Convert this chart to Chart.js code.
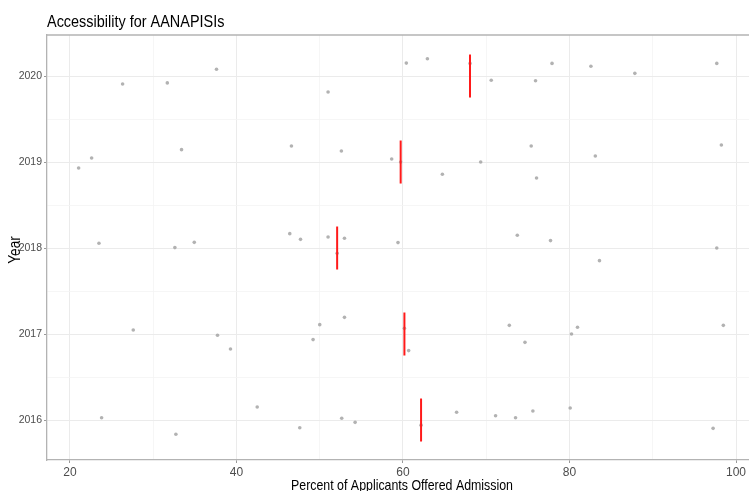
<!DOCTYPE html>
<html>
<head>
<meta charset="utf-8">
<title>Accessibility for AANAPISIs</title>
<script src="https://cdn.jsdelivr.net/npm/chart.js@4.4.1/dist/chart.umd.min.js"></script>
<style>
  html, body { margin: 0; padding: 0; background: #fff; }
  #wrap { width: 749px; height: 491px; }
</style>
</head>
<body>
<div id="wrap"><canvas id="chart" width="749" height="491"></canvas></div>
<script>
// Years on the y axis and the red median mark for each
const years = [2016, 2017, 2018, 2019, 2020];
const medians = [62.17, 60.17, 52.09, 59.72, 68.05];

// Percent offered admission per school, with the jittered year it was drawn at
const pct2016 = [23.8, 32.72, 42.49, 47.6, 52.64, 54.25, 62.17, 66.44, 71.12, 73.52, 75.6, 80.08, 97.25];
const yr2016 = [2016.027, 2015.834, 2016.151, 2015.91, 2016.02, 2015.973, 2015.94, 2016.09, 2016.05, 2016.027, 2016.105, 2016.14, 2015.903];
const pct2017 = [27.6, 37.72, 39.28, 49.2, 50.0, 52.97, 60.17, 60.68, 72.77, 74.65, 80.24, 80.96, 98.48];
const yr2017 = [2017.047, 2016.985, 2016.826, 2016.935, 2017.109, 2017.194, 2017.066, 2016.807, 2017.101, 2016.903, 2017.0, 2017.078, 2017.101];
const pct2018 = [23.48, 32.6, 34.93, 46.4, 47.69, 51.0, 52.09, 52.97, 59.4, 73.73, 77.72, 83.6, 97.69];
const yr2018 = [2018.055, 2018.005, 2018.066, 2018.167, 2018.101, 2018.128, 2017.94, 2018.113, 2018.063, 2018.148, 2018.086, 2017.853, 2018.0];
const pct2019 = [21.04, 22.6, 33.4, 46.6, 52.6, 58.64, 59.72, 64.73, 69.33, 75.4, 76.04, 83.1, 98.24];
const yr2019 = [2018.93, 2019.047, 2019.144, 2019.186, 2019.128, 2019.035, 2019.0, 2018.857, 2019.0, 2019.186, 2018.814, 2019.07, 2019.198];
const pct2020 = [26.32, 31.69, 37.6, 51.0, 60.4, 62.93, 68.05, 70.6, 75.92, 77.9, 82.57, 87.85, 97.69];
const yr2020 = [2019.907, 2019.92, 2020.078, 2019.814, 2020.15, 2020.2, 2020.147, 2019.95, 2019.945, 2020.147, 2020.113, 2020.031, 2020.147];

// Tick positions (major ones get labels, minor ones only a faint grid line)
const xMajor = [20, 40, 60, 80, 100];
const xMinor = [30, 50, 70, 90];
const yMajor = [2016, 2017, 2018, 2019, 2020];
const yMinor = [2016.5, 2017.5, 2018.5, 2019.5];

const titleText = 'Accessibility for AANAPISIs';
const xTitleText = 'Percent of Applicants Offered Admission';
const yTitleText = 'Year';

const SANS = '"Liberation Sans", Arial, sans-serif';
const AXIS_GRAY = '#b3b3b3';

function zip(xs, ys) {
    return xs.map((x, i) => ({ x: x, y: ys[i] }));
}

const allPoints = []
    .concat(zip(pct2016, yr2016))
    .concat(zip(pct2017, yr2017))
    .concat(zip(pct2018, yr2018))
    .concat(zip(pct2019, yr2019))
    .concat(zip(pct2020, yr2020));

// one short vertical red segment per year at the median
const medianSets = years.map((yr, i) => ({
    type: 'line',
    data: [{ x: medians[i], y: yr - 0.25 }, { x: medians[i], y: yr + 0.25 }],
    borderColor: '#ff1a1a',
    borderWidth: 2,
    pointRadius: 0,
    fill: false
}));

function explicitTicks(major, minor) {
    return function(scale) {
        const vals = major.concat(minor).sort((a, b) => a - b);
        scale.ticks = vals.map(v => ({ value: v, major: major.includes(v) }));
    };
}

function isMajor(list) {
    return function(ctx) {
        return ctx.tick && list.includes(ctx.tick.value);
    };
}

// narrow-looking text: squeeze horizontally a bit
function squeezedText(ctx, text, x, y, size, squeeze, angle) {
    ctx.save();
    ctx.translate(x, y);
    if (angle) ctx.rotate(angle);
    ctx.scale(squeeze, 1);
    ctx.font = size + 'px ' + SANS;
    ctx.fillStyle = '#000';
    ctx.textAlign = 'center';
    ctx.textBaseline = 'alphabetic';
    ctx.fillText(text, 0, 0);
    ctx.restore();
}

// top frame line, main title, axis titles
const framePlugin = {
    id: 'frame',
    afterDraw(chart) {
        const ctx = chart.ctx;
        const a = chart.chartArea;
        ctx.save();
        ctx.strokeStyle = AXIS_GRAY;
        ctx.lineWidth = 1.3;
        ctx.beginPath();
        ctx.moveTo(a.left, a.top);
        ctx.lineTo(a.right, a.top);
        ctx.stroke();
        ctx.restore();

        ctx.save();
        ctx.font = '17px ' + SANS;
        const w = ctx.measureText(titleText).width * 0.85;
        ctx.restore();
        squeezedText(ctx, titleText, a.left + w / 2, 26.5, 17, 0.85, 0);
        squeezedText(ctx, xTitleText, 402, 489.5, 15, 0.825, 0);
        squeezedText(ctx, yTitleText, 20, 250, 16, 0.85, -Math.PI / 2);
    }
};

const xMajorTest = isMajor(xMajor);
const yMajorTest = isMajor(yMajor);

new Chart(document.getElementById('chart'), {
    type: 'scatter',
    data: {
        datasets: medianSets.concat([{
            label: 'Schools',
            data: allPoints,
            backgroundColor: 'rgba(165,165,165,0.85)',
            borderWidth: 0,
            pointRadius: 1.8
        }])
    },
    options: {
        responsive: false,
        animation: false,
        layout: {
            autoPadding: false, // the panel runs off the right edge in the original
            padding: { top: 35, left: 0, right: 0, bottom: 0 }
        },
        plugins: {
            legend: { display: false },
            title: { display: false },
            tooltip: { enabled: false }
        },
        scales: {
            x: {
                type: 'linear',
                min: 17.24,
                max: 101.56,
                afterBuildTicks: explicitTicks(xMajor, xMinor),
                afterFit: function(scale) {
                    scale.height = 31;
                },
                border: { display: true, color: AXIS_GRAY, width: 1.3 },
                grid: {
                    color: ctx => xMajorTest(ctx) ? '#ebebeb' : '#f4f4f4',
                    lineWidth: ctx => xMajorTest(ctx) ? 1 : 0.8,
                    tickColor: ctx => xMajorTest(ctx) ? '#999' : 'rgba(0,0,0,0)',
                    tickLength: 3
                },
                ticks: {
                    autoSkip: false,
                    maxRotation: 0,
                    padding: 2,
                    color: '#4d4d4d',
                    font: { family: SANS, size: 12 },
                    callback: v => xMajor.includes(v) ? String(v) : ''
                }
            },
            y: {
                type: 'linear',
                min: 2015.535,
                max: 2020.477,
                afterBuildTicks: explicitTicks(yMajor, yMinor),
                afterFit: function(scale) {
                    scale.width = 47;
                },
                border: { display: true, color: AXIS_GRAY, width: 1.3 },
                grid: {
                    color: ctx => yMajorTest(ctx) ? '#ebebeb' : '#f4f4f4',
                    lineWidth: ctx => yMajorTest(ctx) ? 1 : 0.8,
                    tickColor: ctx => yMajorTest(ctx) ? '#999' : 'rgba(0,0,0,0)',
                    tickLength: 3
                },
                ticks: {
                    autoSkip: false,
                    padding: 2,
                    color: '#4d4d4d',
                    font: { family: SANS, size: 10.5 },
                    callback: v => yMajor.includes(v) ? String(v) : ''
                }
            }
        }
    },
    plugins: [framePlugin]
});
</script>
</body>
</html>
